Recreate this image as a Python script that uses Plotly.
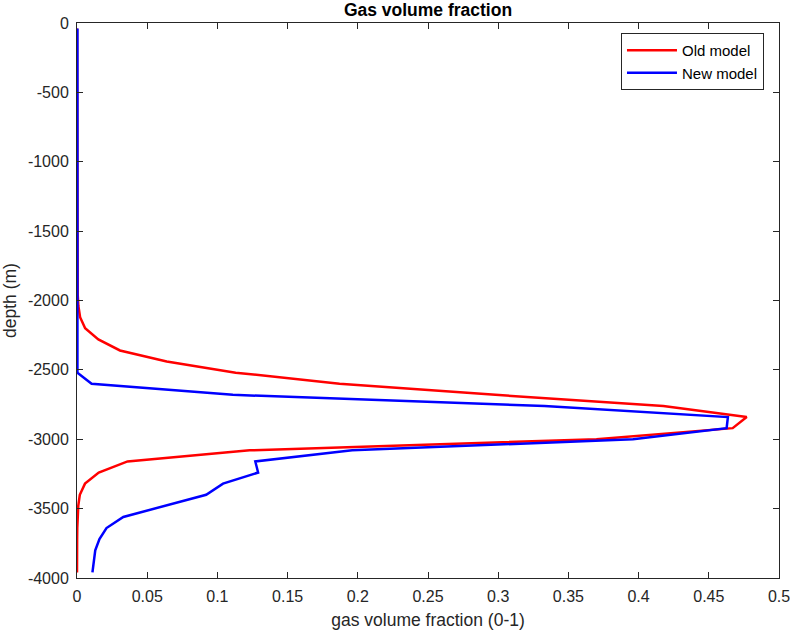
import plotly.graph_objects as go

depth = [-40, -120, -200, -280, -360, -440, -520, -600, -680, -760, -840, -920, -1000,
         -1080, -1160, -1240, -1320, -1400, -1480, -1560, -1640, -1720, -1800, -1880,
         -1960, -2040, -2120, -2200, -2280, -2360, -2440, -2520, -2600, -2680, -2760,
         -2840, -2920, -3000, -3080, -3160, -3240, -3320, -3400, -3480, -3560, -3640,
         -3720, -3800, -3880, -3960]

old_model = [0.0, 0.0, 0.0, 0.0, 0.0, 0.0, 0.0, 0.0, 0.0, 0.0, 0.0, 0.0, 0.0,
             0.0, 0.0, 0.0, 0.0, 0.0, 0.0, 0.0001, 0.0001, 0.0001, 0.0002, 0.0003,
             0.0005, 0.001, 0.0022, 0.0058, 0.0152, 0.0306, 0.0639, 0.113, 0.187, 0.298, 0.4176,
             0.477, 0.467, 0.37, 0.123, 0.036, 0.0155, 0.0057, 0.002, 0.0009, 0.0004, 0.0002,
             0.0001, 0.0001, 0.0, 0.0]

new_model = [0.0003, 0.0003, 0.0003, 0.0003, 0.0003, 0.0003, 0.0003, 0.0003, 0.0003, 0.0003, 0.0003, 0.0003, 0.0003,
             0.0003, 0.0003, 0.0003, 0.0003, 0.0003, 0.0003, 0.0003, 0.0003, 0.0003, 0.0003, 0.0003,
             0.0003, 0.0003, 0.0003, 0.0003, 0.0003, 0.0003, 0.0003, 0.0003, 0.0104, 0.111, 0.333,
             0.4636, 0.4627, 0.396, 0.196, 0.127, 0.129, 0.104, 0.092, 0.063, 0.033, 0.021,
             0.016, 0.013, 0.0118, 0.011]

x_ticks = [0, 0.05, 0.1, 0.15, 0.2, 0.25, 0.3, 0.35, 0.4, 0.45, 0.5]
x_ticklabels = ["0", "0.05", "0.1", "0.15", "0.2", "0.25", "0.3", "0.35", "0.4", "0.45", "0.5"]
y_ticks = [0, -500, -1000, -1500, -2000, -2500, -3000, -3500, -4000]
y_ticklabels = ["0", "-500", "-1000", "-1500", "-2000", "-2500", "-3000", "-3500", "-4000"]

FONT = "Liberation Sans, Arial, Helvetica, sans-serif"
AX = "#262626"

fig = go.Figure()
fig.add_trace(go.Scatter(x=old_model, y=depth, mode="lines", name="Old model",
                         line=dict(color="#ff0000", width=2.5)))
fig.add_trace(go.Scatter(x=new_model, y=depth, mode="lines", name="New model",
                         line=dict(color="#0000ff", width=2.5)))

axis_common = dict(showline=True, linecolor=AX, linewidth=1, mirror="ticks",
                   ticks="inside", ticklen=6, tickcolor=AX, tickwidth=1,
                   showgrid=False, zeroline=False, automargin=False,
                   ticklabelstandoff=4, ticklabeloverflow="allow",
                   tickfont=dict(family=FONT, size=16, color=AX))

fig.update_xaxes(range=[0, 0.5], tickvals=x_ticks, ticktext=x_ticklabels,
                 title=dict(text="gas volume fraction (0-1)", font=dict(family=FONT, size=17.5, color=AX)),
                 **axis_common)
fig.update_yaxes(range=[-4000, 0], tickvals=y_ticks, ticktext=y_ticklabels,
                 title=dict(text="depth (m)", font=dict(family=FONT, size=17.5, color=AX)),
                 **axis_common)

fig.update_layout(
    width=790, height=630,
    margin=dict(l=77, r=11, t=23, b=52, autoexpand=False),
    paper_bgcolor="white", plot_bgcolor="white",
    title=dict(text="<b>Gas volume fraction</b>", x=0.5, xref="paper", xanchor="center",
               y=1 - 10 / 630, yref="container", yanchor="middle",
               font=dict(family=FONT, size=17.5, color="black")),
    legend=dict(x=0.9786, y=0.982, xanchor="right", yanchor="top",
                bordercolor=AX, borderwidth=1, bgcolor="white",
                font=dict(family=FONT, size=15, color="black"),
                tracegroupgap=0, itemwidth=50),
    showlegend=True,
)

fig.write_html("out.html", config={"displayModeBar": False},
               post_script="document.body.style.margin='0';document.body.style.overflow='hidden';")
